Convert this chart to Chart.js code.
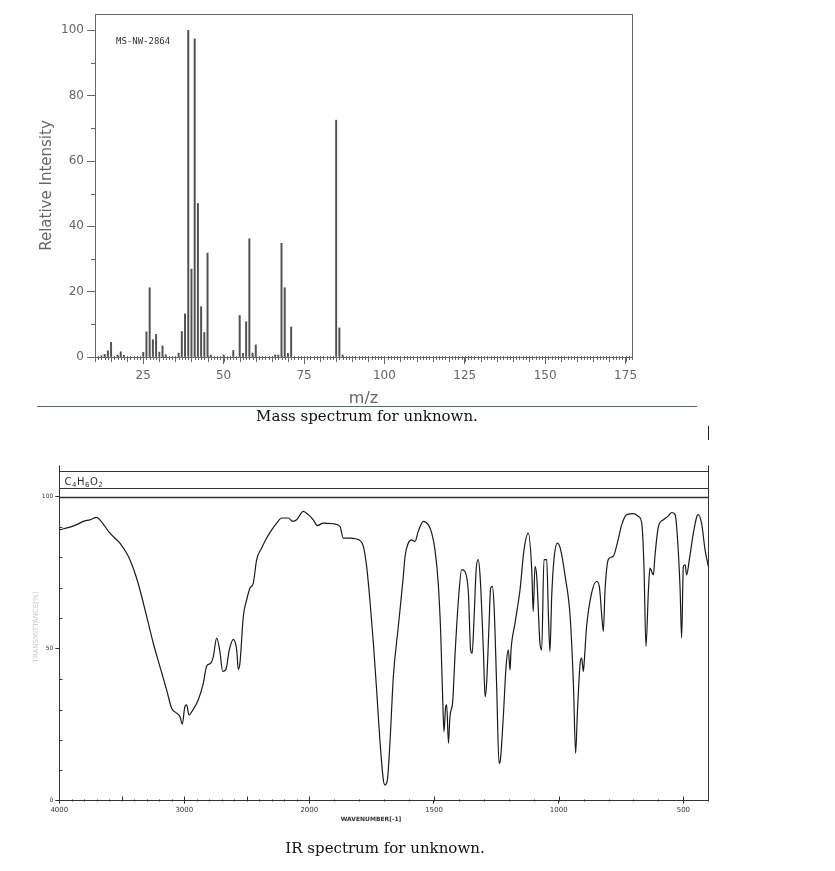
<!DOCTYPE html>
<html>
<head>
<meta charset="utf-8">
<script src="https://cdn.jsdelivr.net/npm/chart.js@4.4.0/dist/chart.umd.min.js"></script>
<style>
  body { margin: 0; background: #fff; width: 835px; height: 871px; position: relative; overflow: hidden; }
  canvas { position: absolute; left: 0; }
  #ms { top: 0; }
  #ir { top: 450px; }
  .cap { position: absolute; font-family: "DejaVu Serif", serif; font-size: 15px; color: #111; white-space: nowrap; transform: translate(-50%, -50%); }
  #rule { position: absolute; left: 37px; top: 406px; width: 660px; height: 1px; background: #55657a; }
  #mark { position: absolute; left: 708px; top: 426px; width: 1px; height: 14px; background: #222; }
</style>
</head>
<body>
<canvas id="ms" width="835" height="408"></canvas>
<div id="rule"></div>
<div class="cap" style="left:367px; top:416px;">Mass spectrum for unknown.</div>
<div id="mark"></div>
<canvas id="ir" width="835" height="420"></canvas>
<div class="cap" style="left:385px; top:848px;">IR spectrum for unknown.</div>

<script>
// Datos del espectro de masas (m/z e intensidad relativa)
const msId = "MS-NW-2864";
const mzValues = [12, 13, 14, 15, 17, 18, 19, 25, 26, 27, 28, 29, 30, 31, 32, 36, 37, 38, 39, 40,
                  41, 42, 43, 44, 45, 46, 50, 53, 55, 56, 57, 58, 59, 60, 66, 67, 68, 69, 70, 71,
                  85, 86, 87];
const msIntensity = [0.4, 0.8, 1.9, 4.5, 0.6, 1.6, 0.5, 1.4, 7.7, 21.2, 5.3, 6.9, 1.5, 3.4, 0.7, 1.2, 7.8, 13.2, 100, 26.9,
                     97.4, 47.0, 15.4, 7.5, 31.8, 0.6, 0.6, 2.0, 12.7, 1.1, 10.8, 36.2, 1.2, 3.7, 0.6, 0.6, 34.8, 21.2, 1.1, 9.2,
                     72.5, 8.9, 0.6];
const msXTicks = [25, 50, 75, 100, 125, 150, 175];
const msYTicks = [0, 20, 40, 60, 80, 100];

// Datos del espectro IR (numero de onda y transmitancia %)
const irFormula = ["C", "4", "H", "6", "O", "2"];
const irWave = [4000, 3915, 3861, 3808, 3755, 3701, 3675, 3595, 3515, 3448, 3395, 3355, 3301, 3248, 3195, 3141, 3101, 3061, 3035, 3016,
  2995, 2981, 2963, 2928, 2888, 2848, 2821, 2789, 2768, 2741, 2715, 2693, 2667, 2640, 2608, 2581, 2568, 2555, 2528, 2501,
  2475, 2448, 2421, 2381, 2341, 2301, 2261, 2221, 2168, 2133, 2101, 2048, 2008, 1984, 1968, 1944, 1904, 1877, 1864, 1837,
  1797, 1783, 1770, 1757, 1743, 1730, 1717, 1703, 1697, 1687, 1676, 1663, 1643, 1623, 1616, 1603, 1590, 1576, 1563, 1543,
  1523, 1509, 1496, 1483, 1473, 1465, 1460, 1453, 1449, 1442, 1436, 1425, 1416, 1402, 1389, 1376, 1362, 1353, 1347, 1339,
  1331, 1323, 1315, 1302, 1295, 1289, 1279, 1273, 1266, 1259, 1249, 1239, 1235, 1222, 1211, 1202, 1195, 1191, 1175, 1155,
  1139, 1122, 1108, 1102, 1095, 1088, 1075, 1068, 1059, 1048, 1041, 1035, 1028, 1019, 1005, 992, 974, 954, 941, 932,
  925, 914, 908, 901, 897, 888, 868, 848, 837, 827, 821, 814, 801, 781, 765, 747, 727, 700, 680, 667,
  658, 650, 640, 634, 620, 614, 600, 580, 560, 547, 533, 524, 513, 507, 500, 493, 487, 476, 460, 446,
  440, 426, 413, 400];
const irTrans = [89.1, 90.0, 90.8, 91.9, 92.4, 93.2, 92.4, 88.0, 84.7, 80.4, 74.9, 69.4, 60.6, 51.8, 44.1, 36.4, 30.4, 28.8, 27.7, 25.2,
  31.0, 31.5, 28.2, 30.1, 33.2, 38.6, 44.3, 45.2, 47.4, 53.5, 49.0, 42.5, 43.2, 49.6, 53.1, 49.6, 43.2, 45.2, 60.6, 66.1,
  69.9, 71.6, 79.3, 83.1, 86.4, 89.1, 91.3, 93.0, 93.0, 91.9, 92.4, 95.2, 94.1, 92.4, 90.5, 91.3, 91.1, 90.2, 86.4, 86.4,
  85.6, 83.6, 77.0, 66.0, 51.8, 36.4, 20.0, 6.8, 5.2, 6.8, 20.0, 40.8, 57.3, 73.8, 80.4, 84.7, 85.8, 85.3, 88.6, 91.9,
  90.8, 88.0, 82.5, 71.6, 55.1, 33.2, 22.7, 31.0, 31.5, 18.9, 27.7, 32.6, 47.4, 66.1, 76.0, 75.4, 68.3, 49.6, 48.5, 60.6,
  76.0, 79.3, 73.8, 49.6, 34.2, 38.6, 58.4, 69.9, 70.5, 63.9, 38.6, 12.3, 12.8, 27.7, 44.1, 49.6, 43.0, 49.6, 58.4, 69.4,
  82.5, 88.0, 76.0, 62.2, 77.1, 73.8, 51.8, 49.6, 79.3, 79.3, 60.6, 49.1, 67.2, 79.3, 84.7, 82.5, 73.8, 60.6, 38.6, 15.6,
  28.8, 45.2, 46.9, 42.5, 46.3, 57.3, 68.3, 72.1, 70.5, 60.6, 55.7, 69.4, 79.3, 80.4, 84.7, 90.8, 94.1, 94.4, 93.5, 91.3,
  77.1, 50.7, 69.4, 76.5, 74.3, 80.4, 90.2, 92.4, 93.7, 94.8, 94.1, 86.9, 69.4, 53.5, 77.1, 77.6, 74.3, 79.3, 88.0, 93.5,
  94.1, 90.8, 82.5, 77.1];
const irXTicks = [4000, 3000, 2000, 1500, 1000, 500];
const irYTicks = [0, 50, 100];

// Escala de numero de onda con cambio de escala en 2000 cm-1
const WN_MAX = 4000, WN_BREAK = 2000, WN_MIN = 400, BREAK_FRAC = 250 / 649;
class WaveScale extends Chart.LinearScale {
  getPixelForValue(v) {
    const t = v >= WN_BREAK
      ? (WN_MAX - v) / (WN_MAX - WN_BREAK) * BREAK_FRAC
      : BREAK_FRAC + (WN_BREAK - v) / (WN_BREAK - WN_MIN) * (1 - BREAK_FRAC);
    return this.left + t * this.width;
  }
  getValueForPixel(p) {
    const t = (p - this.left) / this.width;
    return t <= BREAK_FRAC
      ? WN_MAX - t / BREAK_FRAC * (WN_MAX - WN_BREAK)
      : WN_BREAK - (t - BREAK_FRAC) / (1 - BREAK_FRAC) * (WN_BREAK - WN_MIN);
  }
}
WaveScale.id = 'wave';
WaveScale.defaults = {};
Chart.register(WaveScale);

// Decoracion del espectro de masas: marco, marcas menores, etiqueta
const msDecor = {
  id: 'msDecor',
  afterDraw(chart) {
    const { ctx, chartArea: a, scales: { x, y } } = chart;
    ctx.save();
    ctx.strokeStyle = '#666';
    ctx.lineWidth = 1;
    ctx.strokeRect(Math.round(a.left) + 0.5, Math.round(a.top) + 0.5, Math.round(a.right - a.left), Math.round(a.bottom - a.top));
    ctx.beginPath();
    for (let m = Math.ceil(x.min); m <= x.max; m++) {
      const px = Math.round(x.getPixelForValue(m)) + 0.5;
      const len = m % 5 === 0 ? 5 : 3;
      ctx.moveTo(px, a.bottom - 1);
      ctx.lineTo(px, a.bottom + len);
    }
    for (let v = 10; v < 100; v += 20) {
      const py = Math.round(y.getPixelForValue(v)) + 0.5;
      ctx.moveTo(a.left - 4, py);
      ctx.lineTo(a.left, py);
    }
    ctx.stroke();
    ctx.fillStyle = '#333';
    ctx.font = '9px "DejaVu Sans Mono"';
    ctx.textBaseline = 'middle';
    ctx.fillText(msId, a.left + 21, a.top + 28);
    ctx.restore();
  }
};

// Decoracion del espectro IR: marco, caja de formula, marcas
const irDecor = {
  id: 'irDecor',
  afterDraw(chart) {
    const { ctx, chartArea: a, scales: { x, y } } = chart;
    const L = Math.round(a.left) + 0.5, R = Math.round(a.right) + 0.5;
    const T = Math.round(a.top) + 0.5, B = Math.round(a.bottom) + 0.5;
    ctx.save();
    ctx.strokeStyle = '#333';
    ctx.lineWidth = 1;
    ctx.beginPath();
    // caja de la formula
    ctx.moveTo(L, T - 32); ctx.lineTo(L, T);
    ctx.moveTo(R, T - 32); ctx.lineTo(R, B);
    ctx.moveTo(L, T - 26); ctx.lineTo(R, T - 26);
    ctx.moveTo(L, T - 9); ctx.lineTo(R, T - 9);
    ctx.stroke();
    ctx.lineWidth = 1.6;
    ctx.beginPath();
    ctx.moveTo(L, T); ctx.lineTo(R, T);
    ctx.stroke();
    // marcas menores
    ctx.lineWidth = 1;
    ctx.beginPath();
    for (let w = 3900; w > WN_MIN; w -= 100) {
      const px = Math.round(x.getPixelForValue(w)) + 0.5;
      const len = w % 500 === 0 ? 5 : 2;
      ctx.moveTo(px, B); ctx.lineTo(px, B - len);
    }
    for (let v = 10; v < 100; v += 10) {
      if (v === 50) continue;
      const py = Math.round(y.getPixelForValue(v)) + 0.5;
      ctx.moveTo(L, py); ctx.lineTo(L + 3, py);
    }
    ctx.stroke();
    // formula con subindices
    ctx.fillStyle = '#333';
    ctx.textBaseline = 'alphabetic';
    let cx = L + 5;
    irFormula.forEach((s, i) => {
      const sub = i % 2 === 1;
      ctx.font = sub ? '7px "DejaVu Sans"' : '10px "DejaVu Sans"';
      ctx.fillText(s, cx, sub ? T - 11 : T - 13);
      cx += ctx.measureText(s).width + 0.5;
    });
    // titulo del eje x
    ctx.font = 'bold 6px "DejaVu Sans"';
    ctx.textAlign = 'center';
    ctx.textBaseline = 'middle';
    ctx.fillText('WAVENUMBER[-1]', 371, B + 18);
    // titulo del eje y (muy tenue)
    ctx.translate(36, 627 - 450);
    ctx.rotate(-Math.PI / 2);
    ctx.fillStyle = '#c8c8c8';
    ctx.font = '7px "DejaVu Sans"';
    ctx.fillText('TRANSMITTANCE[%]', 0, 0);
    ctx.restore();
  }
};

new Chart(document.getElementById('ms'), {
  type: 'bar',
  data: {
    datasets: [{
      data: mzValues.map((m, i) => ({ x: m, y: msIntensity[i] })),
      backgroundColor: '#505050',
      borderWidth: 0,
      barThickness: 1.3
    }]
  },
  options: {
    responsive: false,
    animation: false,
    layout: { padding: { top: 14, right: 203, bottom: 0, left: 0 } },
    plugins: { legend: { display: false }, tooltip: { enabled: false } },
    scales: {
      x: {
        type: 'linear', min: 10, max: 177, offset: false,
        afterBuildTicks: s => { s.ticks = msXTicks.map(v => ({ value: v })); },
        afterFit: s => { s.height = 51; },
        grid: { offset: false, drawOnChartArea: false, tickLength: 7, color: '#666' },
        border: { color: '#666' },
        ticks: { padding: 5, color: '#666', autoSkip: false, maxRotation: 0, font: { family: 'DejaVu Sans', size: 12 }, callback: v => String(v) },
        title: { display: true, text: 'm/z', color: '#666', font: { family: 'DejaVu Sans', size: 16 }, padding: { top: 0, bottom: 0 } }
      },
      y: {
        min: 0, max: 105,
        afterBuildTicks: s => { s.ticks = msYTicks.map(v => ({ value: v })); },
        afterFit: s => { s.width = 95; },
        grid: { drawOnChartArea: false, tickLength: 8, color: '#666' },
        border: { color: '#666' },
        ticks: { padding: 3, color: '#666', font: { family: 'DejaVu Sans', size: 12 }, callback: v => String(v) },
        title: { display: true, text: 'Relative Intensity', color: '#666', font: { family: 'DejaVu Sans', size: 15 }, padding: { top: 38, bottom: 0 } }
      }
    }
  },
  plugins: [msDecor]
});

new Chart(document.getElementById('ir'), {
  type: 'line',
  data: {
    datasets: [{
      data: irWave.map((w, i) => ({ x: w, y: irTrans[i] })),
      borderColor: '#1a1a1a',
      borderWidth: 1.2,
      pointRadius: 0,
      fill: false,
      cubicInterpolationMode: 'monotone'
    }]
  },
  options: {
    responsive: false,
    animation: false,
    layout: { padding: { top: 46.7, right: 126.7, bottom: 0, left: 0 } },
    plugins: { legend: { display: false }, tooltip: { enabled: false } },
    scales: {
      x: {
        type: 'wave', min: WN_MIN, max: WN_MAX,
        afterBuildTicks: s => { s.ticks = irXTicks.map(v => ({ value: v })); },
        afterFit: s => { s.height = 69.3; },
        grid: { drawOnChartArea: false, tickLength: 3, color: '#333' },
        border: { color: '#333' },
        ticks: { padding: 2, color: '#333', autoSkip: false, maxRotation: 0, font: { family: 'DejaVu Sans', size: 7 }, callback: v => String(v) }
      },
      y: {
        min: 0, max: 100,
        afterBuildTicks: s => { s.ticks = irYTicks.map(v => ({ value: v })); },
        afterFit: s => { s.width = 59.3; },
        grid: { drawOnChartArea: false, tickLength: 4, color: '#333' },
        border: { color: '#333' },
        ticks: { padding: 2, color: '#333', font: { family: 'DejaVu Sans', size: 6 }, callback: v => String(v) }
      }
    }
  },
  plugins: [irDecor]
});
</script>
</body>
</html>
